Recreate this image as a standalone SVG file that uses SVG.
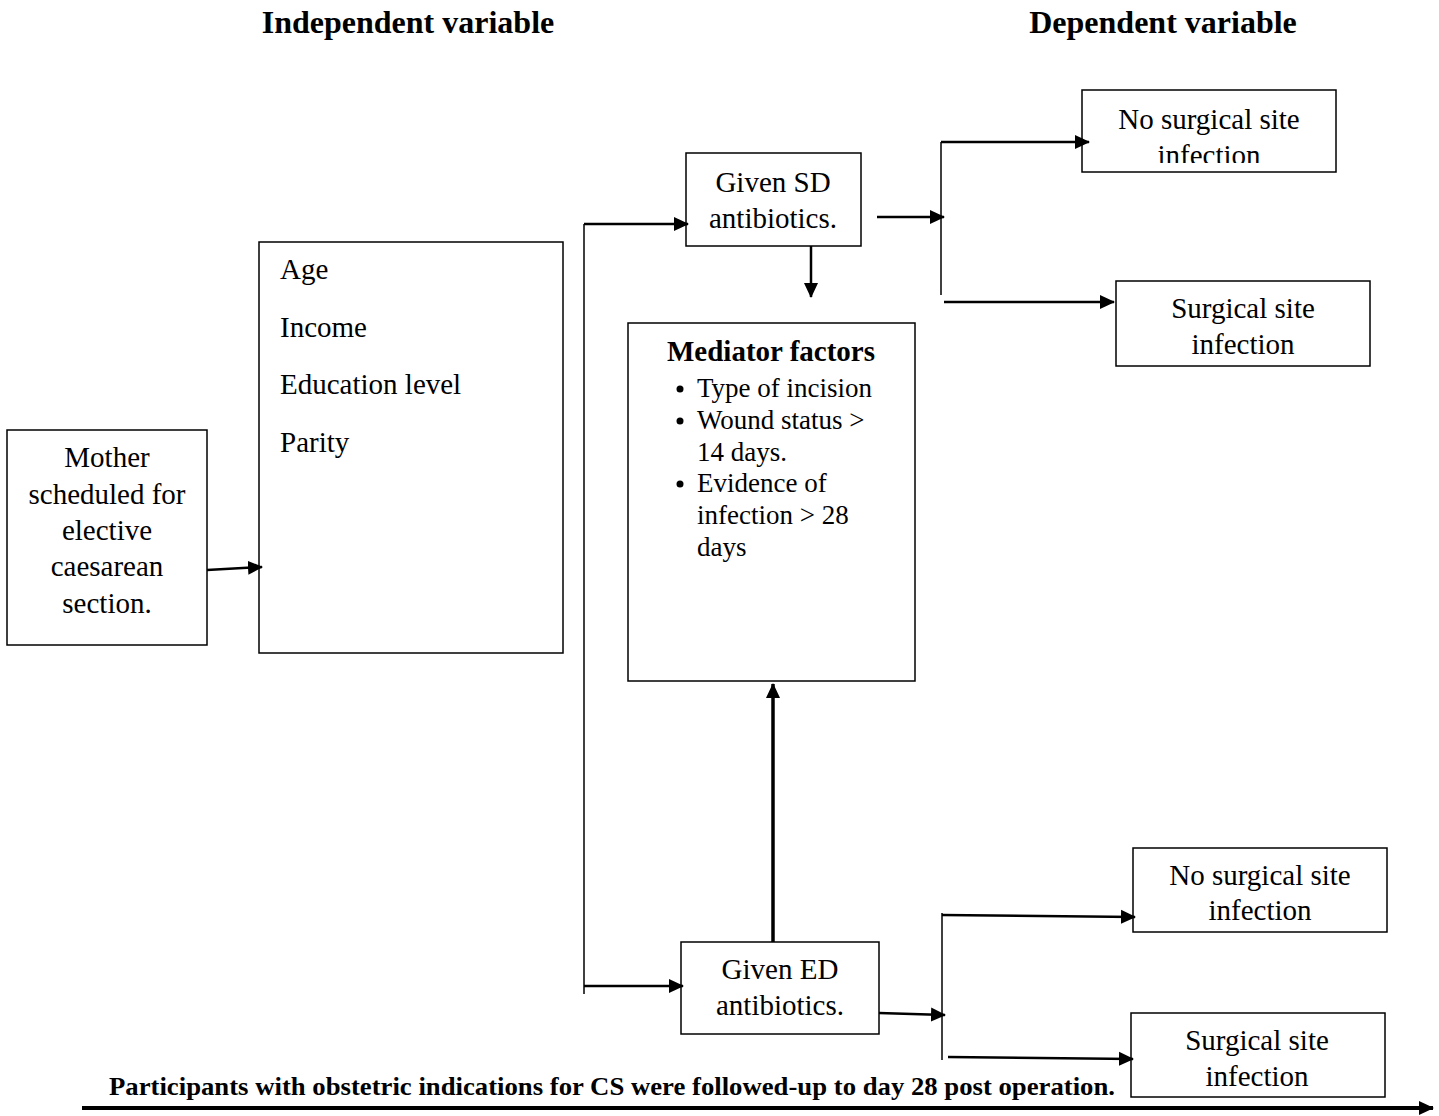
<svg xmlns="http://www.w3.org/2000/svg" width="1439" height="1116" viewBox="0 0 1439 1116">
<style>
.box{fill:#fff;stroke:#000;stroke-width:1.5}
.t{font-family:"Liberation Serif","Times New Roman",serif;font-size:29px;fill:#000}
.c{text-anchor:middle}
.b{font-weight:bold}
.h{font-size:32px}
.m{font-size:27px}
.ln{fill:none;stroke:#000;stroke-width:2.5}
.thin{fill:none;stroke:#000;stroke-width:1.5}
</style>
<defs>
<marker id="ah" markerUnits="userSpaceOnUse" markerWidth="16" markerHeight="16" refX="14" refY="8" orient="auto">
<path d="M0,1 L15,8 L0,15 Z" fill="#000"/>
</marker>
<clipPath id="clipTop"><rect x="1082" y="90" width="255" height="73"/></clipPath>
</defs>
<rect width="1439" height="1116" fill="#fff"/>

<g id="titles">
<text class="t h b c" x="408" y="33">Independent variable</text>
<text class="t h b c" x="1163" y="33">Dependent variable</text>
</g>

<g id="mother">
<rect class="box" x="7" y="430" width="200" height="215"/>
<text class="t c" x="107" y="467">Mother</text>
<text class="t c" x="107" y="504">scheduled for</text>
<text class="t c" x="107" y="540">elective</text>
<text class="t c" x="107" y="576">caesarean</text>
<text class="t c" x="107" y="613">section.</text>
</g>

<g id="covariates">
<rect class="box" x="259" y="242" width="304" height="411"/>
<text class="t" x="280" y="279">Age</text>
<text class="t" x="280" y="337">Income</text>
<text class="t" x="280" y="394">Education level</text>
<text class="t" x="280" y="452">Parity</text>
</g>

<g id="sd">
<rect class="box" x="686" y="153" width="175" height="93"/>
<text class="t c" x="773" y="192">Given SD</text>
<text class="t c" x="773" y="228">antibiotics.</text>
</g>

<g id="mediator">
<rect class="box" x="628" y="323" width="287" height="358"/>
<text class="t b c" x="771" y="361">Mediator factors</text>
<g class="t m">
<circle cx="680" cy="389" r="3.5" fill="#000"/>
<text x="697" y="397">Type of incision</text>
<circle cx="680" cy="421" r="3.5" fill="#000"/>
<text x="697" y="429">Wound status &gt;</text>
<text x="697" y="461">14 days.</text>
<circle cx="680" cy="484" r="3.5" fill="#000"/>
<text x="697" y="492">Evidence of</text>
<text x="697" y="524">infection &gt; 28</text>
<text x="697" y="556">days</text>
</g>
</g>

<g id="ed">
<rect class="box" x="681" y="942" width="198" height="92"/>
<text class="t c" x="780" y="979">Given ED</text>
<text class="t c" x="780" y="1015">antibiotics.</text>
</g>

<g id="nossi-top">
<rect class="box" x="1082" y="90" width="254" height="82"/>
<g clip-path="url(#clipTop)">
<text class="t c" x="1209" y="129">No surgical site</text>
<text class="t c" x="1209" y="165">infection</text>
</g>
</g>

<g id="ssi-top">
<rect class="box" x="1116" y="281" width="254" height="85"/>
<text class="t c" x="1243" y="318">Surgical site</text>
<text class="t c" x="1243" y="354">infection</text>
</g>

<g id="nossi-bottom">
<rect class="box" x="1133" y="848" width="254" height="84"/>
<text class="t c" x="1260" y="885">No surgical site</text>
<text class="t c" x="1260" y="920">infection</text>
</g>

<g id="ssi-bottom">
<rect class="box" x="1131" y="1013" width="254" height="84"/>
<text class="t c" x="1257" y="1050">Surgical site</text>
<text class="t c" x="1257" y="1086">infection</text>
</g>

<g id="footer">
<text class="t b" x="109" y="1095" style="font-size:25px" textLength="1006" lengthAdjust="spacingAndGlyphs">Participants with obstetric indications for CS were followed-up to day 28 post operation.</text>
</g>

<g id="connectors">
<line class="ln" x1="207" y1="570" x2="262" y2="567" marker-end="url(#ah)"/>
<line class="thin" x1="584" y1="224" x2="584" y2="994"/>
<line class="ln" x1="584" y1="224" x2="688" y2="224" marker-end="url(#ah)"/>
<line class="ln" x1="584" y1="986" x2="683" y2="986" marker-end="url(#ah)"/>
<line class="ln" x1="811" y1="246" x2="811" y2="297" marker-end="url(#ah)"/>
<line class="ln" x1="877" y1="217" x2="944" y2="217" marker-end="url(#ah)"/>
<line class="thin" x1="941" y1="142" x2="941" y2="295"/>
<line class="ln" x1="941" y1="142" x2="1089" y2="142" marker-end="url(#ah)"/>
<line class="ln" x1="944" y1="302" x2="1114" y2="302" marker-end="url(#ah)"/>
<line x1="773" y1="942" x2="773" y2="684" stroke="#000" stroke-width="3.5" marker-end="url(#ah)"/>
<line class="ln" x1="879" y1="1013" x2="945" y2="1015" marker-end="url(#ah)"/>
<line class="thin" x1="942" y1="913" x2="942" y2="1060"/>
<line class="ln" x1="942" y1="915" x2="1135" y2="917" marker-end="url(#ah)"/>
<line class="ln" x1="948" y1="1057" x2="1133" y2="1059" marker-end="url(#ah)"/>
<line x1="82" y1="1108" x2="1433" y2="1108" stroke="#000" stroke-width="4" marker-end="url(#ah)"/>
</g>
</svg>
